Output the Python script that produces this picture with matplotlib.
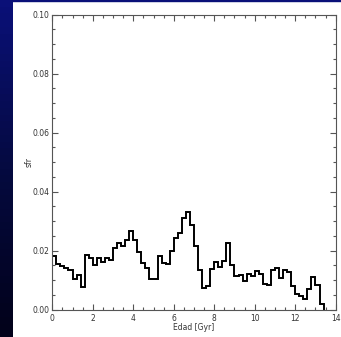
import numpy as np
import matplotlib
matplotlib.use('Agg')
import matplotlib.pyplot as plt
from matplotlib.patches import Rectangle
from matplotlib.colors import LinearSegmentedColormap

# sfr per 0.2 Gyr bin
bin_width = 0.2
sfr = [0.0183, 0.0153, 0.0147, 0.0141, 0.0133, 0.0104, 0.0116, 0.0076,
       0.0184, 0.0174, 0.0150, 0.0176, 0.0160, 0.0174, 0.0167, 0.0207,
       0.0225, 0.0215, 0.0237, 0.0266, 0.0234, 0.0195, 0.0158, 0.0141,
       0.0102, 0.0102, 0.0181, 0.0158, 0.0155, 0.0198, 0.0241, 0.0258,
       0.0311, 0.0330, 0.0287, 0.0215, 0.0133, 0.0072, 0.0079, 0.0138,
       0.0162, 0.0145, 0.0164, 0.0226, 0.0151, 0.0115, 0.0118, 0.0095,
       0.0122, 0.0115, 0.0130, 0.0120, 0.0087, 0.0082, 0.0134, 0.0140,
       0.0106, 0.0133, 0.0127, 0.0079, 0.0051, 0.0045, 0.0036, 0.0070,
       0.0111, 0.0084, 0.0020]
edges = np.arange(len(sfr) + 1) * bin_width

xticks = [0, 2, 4, 6, 8, 10, 12, 14]
yticks = [0.00, 0.02, 0.04, 0.06, 0.08, 0.10]

fig = plt.figure(figsize=(3.41, 3.37), dpi=100, facecolor='white')

# dark blue slide background peeking out on the left (fades to black downwards)
bg = fig.add_axes([0, 0, 12 / 341, 1])
bg.axis('off')
cmap = LinearSegmentedColormap.from_list('slide', ['#02021a', '#050a40', '#0a1078'])
bg.imshow(np.linspace(0, 1, 50).reshape(-1, 1), cmap=cmap, aspect='auto',
          origin='lower', extent=[0, 1, 0, 1])
fig.patches.append(Rectangle((0, 1 - 1.2 / 337), 1, 1.2 / 337, transform=fig.transFigure,
                             color='#0a1078', zorder=0))

ax = fig.add_axes([52.3 / 341, 1 - 309.5 / 337, (335.7 - 52.3) / 341, 295 / 337])
ax.stairs(sfr, edges, color='black', linewidth=1.4)

ax.set_xlim(0, 14)
ax.set_ylim(0, 0.10)
ax.set_xticks(xticks)
ax.set_xticklabels([str(t) for t in xticks])
ax.set_yticks(yticks)
ax.set_yticklabels(['%.2f' % t for t in yticks])
ax.set_xticks(np.arange(0, 14.01, 0.5), minor=True)
ax.set_yticks(np.arange(0, 0.1001, 0.005), minor=True)

ax.tick_params(which='both', direction='in', top=True, right=True,
               colors='#555555', labelcolor='#333333', labelsize=5.5, width=0.8)
ax.tick_params(which='major', length=4.3)
ax.tick_params(which='minor', length=2.2)
ax.tick_params(axis='x', pad=3)
ax.tick_params(axis='y', pad=2)
for s in ax.spines.values():
    s.set_color('#555555')
    s.set_linewidth(0.8)

ax.set_xlabel('Edad [Gyr]', fontsize=5.5, color='#333333', labelpad=0)
ax.set_ylabel('sfr', fontsize=5.5, color='#333333', labelpad=-1)

fig.savefig('out.png', dpi=100, facecolor=fig.get_facecolor())
